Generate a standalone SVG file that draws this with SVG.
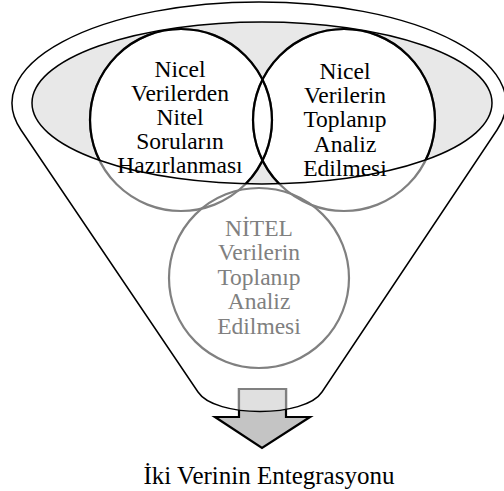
<svg xmlns="http://www.w3.org/2000/svg" width="504" height="491" viewBox="0 0 504 491">
<style>
.t{font-family:"Liberation Serif","Times New Roman",serif;font-size:23.5px;text-anchor:middle;fill:#000}
.g{fill:#808080}
.cf{fill:#fff;stroke:none}
.cg{fill:none;stroke:#808080;stroke-width:2.2}
.cb{fill:none;stroke:#000;stroke-width:2.2}
</style>
<defs>
<clipPath id="ellClip"><ellipse cx="262" cy="103" rx="230" ry="81"/></clipPath>
<clipPath id="funClip"><path d="M198,392 L21,130 A247 101 0 1 1 497,130 L322,392 C305,418 215,418 198,392 Z"/></clipPath>
</defs>
<rect width="504" height="491" fill="#fff"/>
<g id="arrow">
<path d="M239,389 H286 V417 H310 L262,448 L215,417 H239 Z" fill="#c4c4c4" stroke="#000" stroke-width="2.2"/>
<path clip-path="url(#funClip)" d="M239,389 H286 V417 H310 L262,448 L215,417 H239 Z" fill="#e0e0e0" stroke="#808080" stroke-width="2.2"/>
</g>
<g id="funnel">
<path d="M198,392 L21,130 A247 101 0 1 1 497,130 L322,392 C305,418 215,418 198,392 Z" fill="none" stroke="#000" stroke-width="1.5"/>
</g>
<g id="ellipse">
<ellipse cx="262" cy="103" rx="230" ry="81" fill="#e8e8e8" stroke="none"/>
</g>
<g id="circles">
<circle class="cf" cx="181" cy="120" r="91"/>
<circle class="cf" cx="344" cy="120" r="91"/>
<circle class="cf" cx="259" cy="278" r="90"/>
<circle class="cg" cx="181" cy="120" r="91"/>
<circle class="cg" cx="344" cy="120" r="91"/>
<circle class="cg" cx="259" cy="278" r="90"/>
<g clip-path="url(#ellClip)">
<circle class="cb" cx="181" cy="120" r="91"/>
<circle class="cb" cx="344" cy="120" r="91"/>
</g>
</g>
<g id="ellipse-stroke">
<ellipse cx="262" cy="103" rx="230" ry="81" fill="none" stroke="#000" stroke-width="1.5"/>
</g>
<g id="node-left">
<text class="t" x="180" y="77">Nicel</text>
<text class="t" x="180" y="101">Verilerden</text>
<text class="t" x="180" y="125">Nitel</text>
<text class="t" x="180" y="149">Soruların</text>
<text class="t" x="180" y="173">Hazırlanması</text>
</g>
<g id="node-right">
<text class="t" x="345" y="79">Nicel</text>
<text class="t" x="345" y="103">Verilerin</text>
<text class="t" x="345" y="127">Toplanıp</text>
<text class="t" x="345" y="152">Analiz</text>
<text class="t" x="345" y="176">Edilmesi</text>
</g>
<g id="node-bottom">
<text class="t g" x="259" y="236">NİTEL</text>
<text class="t g" x="259" y="260">Verilerin</text>
<text class="t g" x="259" y="285">Toplanıp</text>
<text class="t g" x="259" y="309">Analiz</text>
<text class="t g" x="259" y="334">Edilmesi</text>
</g>
<g id="label">
<text class="t" x="269" y="484" style="font-size:25px">İki Verinin Entegrasyonu</text>
</g>
</svg>
